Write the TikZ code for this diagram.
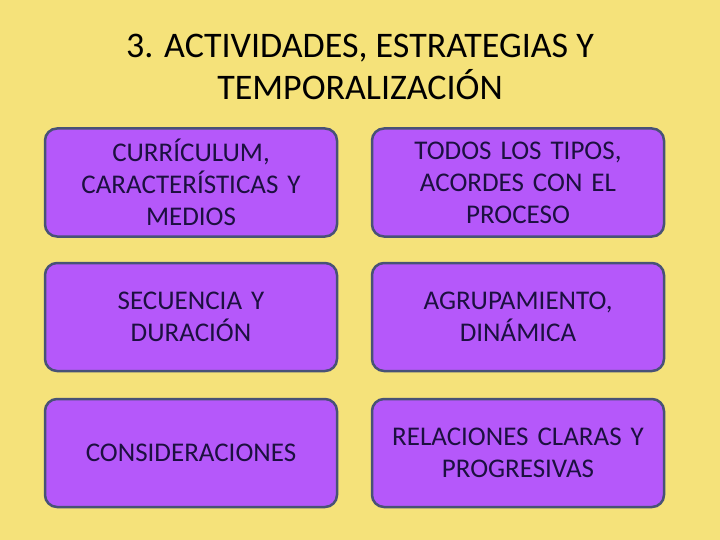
\documentclass[tikz,border=0pt]{standalone}
\usepackage{fontspec}
\setmainfont{Carlito}
\definecolor{fondo}{RGB}{245,226,122}
\definecolor{lila}{RGB}{181,88,250}
\definecolor{borde}{RGB}{72,82,118}
\definecolor{letra}{RGB}{28,16,64}
\tikzset{caja/.style={draw=borde, fill=lila, line width=2.5pt, rounded corners=12pt,
  minimum width=292pt, minimum height=108pt, text width=284pt, align=center,
  text=letra, font=\fontsize{27}{32}\selectfont}}
\begin{document}
\begin{tikzpicture}[x=1pt,y=-1pt]
\path[fill=fondo] (0,0) rectangle (720,540);
\useasboundingbox (0,0) rectangle (720,540);

\node[align=center, font=\fontsize{36}{42}\selectfont] (titulo) at (360,67) {3. ACTIVIDADES, ESTRATEGIAS Y\\TEMPORALIZACIÓN};

\node[caja] (1) at (191,182.5) {CURRÍCULUM,\\CARACTERÍSTICAS Y\\MEDIOS};
\node[caja] (2) at (518,182.5) {TODOS LOS TIPOS,\\ACORDES CON EL\\PROCESO};
\node[caja] (3) at (191,317) {SECUENCIA Y\\DURACIÓN};
\node[caja] (4) at (518,317) {AGRUPAMIENTO,\\DINÁMICA};
\node[caja] (5) at (191,453) {CONSIDERACIONES};
\node[caja] (6) at (518,453) {RELACIONES CLARAS Y\\PROGRESIVAS};
\end{tikzpicture}
\end{document}
